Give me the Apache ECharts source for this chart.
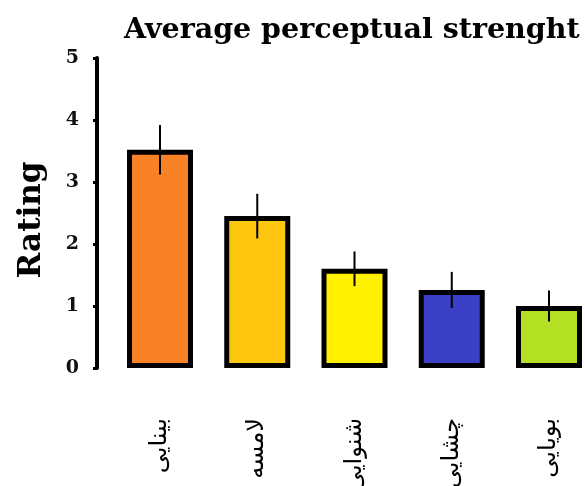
<!DOCTYPE html>
<html>
<head>
<meta charset="utf-8">
<script src="https://cdn.jsdelivr.net/npm/echarts@6/dist/echarts.min.js"></script>
<style>html,body{margin:0;padding:0;background:#fff}#c{width:585px;height:486px}</style>
</head>
<body>
<div id="c"></div>
<script>
const categories = ['بینایی', 'لامسه', 'شنوایی', 'چشایی', 'بویایی'];
const means = [3.52, 2.45, 1.6, 1.26, 1.0];
const errors = [0.4, 0.36, 0.28, 0.29, 0.25];
const barColors = ['#F98226', '#FEC60F', '#FFF100', '#3B40C6', '#B4E024'];
const yTicks = [0, 1, 2, 3, 4, 5];

const chart = echarts.init(document.getElementById('c'), null, {renderer: 'canvas'});
const errData = means.map((m, i) => [i, m - errors[i], m + errors[i]]);

chart.setOption({
  animation: false,
  backgroundColor: '#fff',
  title: {
    text: 'Average perceptual strenght',
    left: 119, top: 11,
    textStyle: {fontFamily: 'DejaVu Serif', fontWeight: 'bold', fontSize: 28.5, color: '#000'}
  },
  grid: {left: 160, right: 36, top: 58, bottom: 118, containLabel: false, outerBoundsMode: 'none'},
  xAxis: {
    type: 'category',
    data: categories,
    boundaryGap: false,
    axisLine: {show: false},
    axisTick: {show: false},
    axisLabel: {
      rotate: 90, margin: 50, interval: 0,
      fontFamily: 'DejaVu Sans', fontSize: 24, color: '#000'
    }
  },
  yAxis: {
    type: 'value',
    min: yTicks[0], max: yTicks[yTicks.length - 1], interval: 1,
    offset: 63,
    name: 'Rating',
    nameLocation: 'middle',
    nameGap: 50,
    nameTextStyle: {fontFamily: 'DejaVu Serif', fontWeight: 'bold', fontSize: 31, color: '#000', padding: [0, 14, 0, 0]},
    axisLine: {show: true, lineStyle: {color: '#000', width: 4}},
    axisTick: {show: true, length: 4, lineStyle: {color: '#000', width: 3}},
    axisLabel: {margin: 18, fontFamily: 'DejaVu Serif', fontWeight: 'bold', fontSize: 19, color: '#111'},
    splitLine: {show: false}
  },
  series: [
    {
      type: 'bar',
      clip: false,
      barWidth: 66,
      data: means.map((v, i) => ({value: v, itemStyle: {color: barColors[i]}})),
      itemStyle: {borderColor: '#000', borderWidth: 5}
    },
    {
      type: 'custom',
      clip: false,
      data: errData,
      z: 10,
      renderItem: function (params, api) {
        const x = api.value(0);
        const lo = api.coord([x, api.value(1)]);
        const hi = api.coord([x, api.value(2)]);
        return {
          type: 'line',
          shape: {x1: lo[0], y1: lo[1], x2: hi[0], y2: hi[1]},
          style: {stroke: '#000', lineWidth: 2}
        };
      }
    }
  ]
});
</script>
</body>
</html>
